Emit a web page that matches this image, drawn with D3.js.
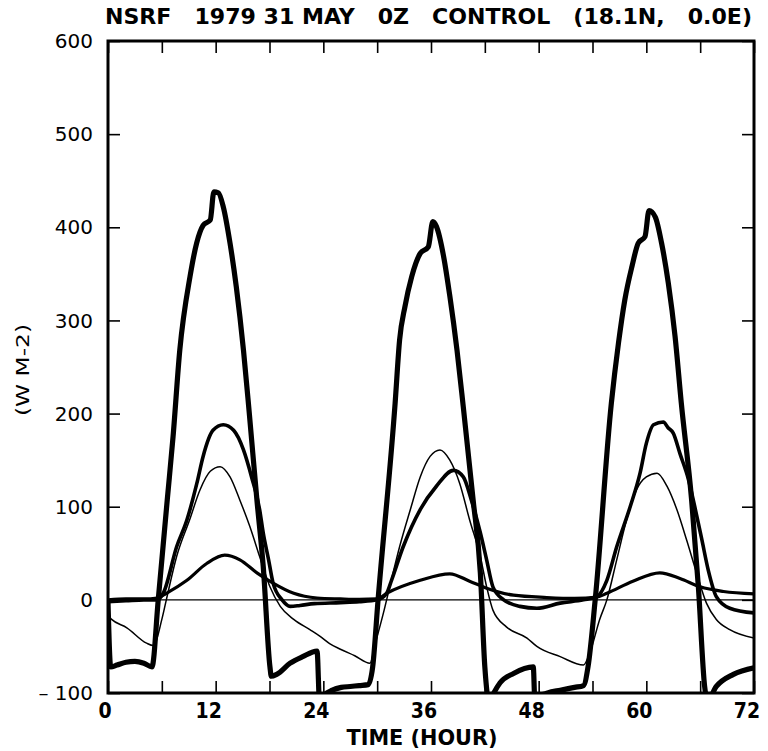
<!DOCTYPE html>
<html>
<head>
<meta charset="utf-8">
<script src="https://cdn.jsdelivr.net/npm/d3@7"></script>
<style>
  html, body { margin: 0; padding: 0; background: #fff; }
  svg { display: block; }
  text { fill: #000; }
</style>
</head>
<body>
<div id="chart"></div>
<script>
// ---------------- data ----------------
const titleText = "NSRF   1979 31 MAY   0Z   CONTROL   (18.1N,   0.0E)";
const xLabel = "TIME (HOUR)";
const yLabel = "(W M-2)";
const xTicks = [0, 12, 24, 36, 48, 60, 72];
const xMinorTicks = [0, 6, 12, 18, 24, 30, 36, 42, 48, 54, 60, 66, 72];
const yTicks = [-100, 0, 100, 200, 300, 400, 500, 600];

// thick curve
const hoursA = [0, 0.3, 1, 2, 3, 4, 4.9, 5.6, 6.6, 7.25, 8.0, 9.14, 9.88, 10.6, 11.4, 11.8, 12.3, 12.85, 13.6, 14.3, 15.1, 15.75, 16.6, 17.3, 18.05, 18.2, 18.8, 20.3, 21.7, 23.3, 23.6, 24, 25, 26, 27, 28, 29, 29.5, 30.1, 32.0, 32.5, 33.1, 33.85, 34.8, 35.7, 36.2, 36.6, 37.4, 38.1, 38.9, 39.6, 40.7, 41.5, 42.0, 42.5, 43.0, 43.7, 45.2, 47.4, 47.6, 48, 49, 50.4, 52, 53.0, 53.5, 54.3, 56.1, 56.9, 57.6, 58.4, 59.1, 59.85, 60.3, 61.0, 61.7, 62.45, 63.2, 63.9, 65.05, 65.8, 66.5, 66.8, 67.8, 69.7, 72];
const valuesA = [-2, -72, -70, -67, -66, -68, -72, 0, 107, 175, 268, 347, 383, 402, 408, 438, 437, 422, 383, 336, 268, 200, 107, 36, -72, -82, -80, -68, -61, -55, -115, -103, -97, -94, -93, -92, -91, -72, 0, 211, 279, 315, 347, 372, 379, 406, 401, 369, 326, 268, 207, 107, 29, -72, -110, -100, -89, -79, -72, -115, -104, -100, -97, -94, -92, -72, 0, 211, 276, 322, 358, 383, 390, 418, 411, 383, 340, 283, 211, 107, 14, -93, -108, -93, -80, -73];

// medium-thick curve
const hoursB = [0, 2, 4, 5.5, 6.2, 7.65, 8.8, 9.9, 10.6, 11.7, 12.85, 14.0, 15.1, 16.0, 16.9, 17.3, 17.9, 18.4, 19.4, 20.3, 21.4, 23, 25.9, 28, 30, 31.05, 31.6, 32.9, 34.8, 36.6, 38.5, 39.6, 40.5, 41.5, 42.2, 42.9, 44.1, 45.9, 47.8, 50.4, 53, 54.5, 55.6, 56.7, 58.2, 59.3, 60.0, 60.8, 61.9, 62.4, 63.0, 63.75, 64.7, 65.4, 66.2, 66.9, 67.8, 69.3, 72];
const valuesB = [-2, -1, 0, 0, 8, 57, 86, 125, 154, 182, 188, 182, 161, 132, 97, 72, 43, 18, 0, -7, -6, -4, -3, -2, 0, 7, 21, 57, 97, 122, 139, 132, 107, 72, 43, 14, 0, -7, -9, -3.5, 0, 3.5, 21, 57, 100, 136, 168, 188, 191, 185, 179, 157, 129, 100, 64, 32, 3.5, -9, -14];

// thin curve
const hoursC = [0, 0.4, 2.1, 4.3, 5.05, 6.0, 6.5, 7.65, 9.1, 10.25, 11.4, 12.5, 13.6, 14.7, 15.8, 16.9, 18.05, 19.2, 20.7, 22.5, 23.6, 24.7, 25.9, 27.5, 29.2, 29.8, 30.7, 31.4, 32.5, 33.7, 34.8, 35.9, 37.0, 38.1, 39.2, 40.3, 41.5, 42.2, 42.9, 44.4, 46.7, 47.8, 50.4, 53.0, 53.7, 54.8, 55.6, 56.7, 57.8, 58.9, 60.0, 61.2, 62.3, 63.4, 64.5, 65.6, 66.7, 67.8, 69.3, 72];
const valuesC = [-17, -21, -30, -46.5, -49, -21, 0, 46.5, 86, 118, 138, 143, 132, 107, 79, 46.5, 14, -7, -21, -32, -39, -47, -53, -60, -68, -46.5, -14, 14, 57, 97, 132, 154, 161, 150, 125, 86, 46.5, 14, -11, -29, -41, -50, -61, -70, -57, -21, 0, 43, 86, 118, 132, 136, 122, 97, 64, 29, -3.5, -21, -32, -41];

// low-amplitude curve
const hoursD = [0, 2, 4, 5.5, 6.5, 8.8, 11.0, 13.0, 14.7, 16.6, 18.4, 20.7, 23.3, 25.9, 28, 30, 31.05, 34.8, 38.1, 40.3, 42.2, 45.2, 48.9, 52, 54.5, 55.6, 58.5, 61.5, 63.75, 66.0, 68.6, 72];
const valuesD = [0, 1, 1, 2, 7, 21, 39, 48, 43, 29, 18, 7, 2, 1, 0.5, 1, 7, 21, 28, 20, 12.5, 5, 2.5, 1.5, 3, 7, 20, 29, 23, 14, 9, 6.5];

// ---------------- chart ----------------
const W = 768, H = 751;
const margin = { left: 108, right: 14, top: 41, bottom: 58 };

const svg = d3.select("#chart").append("svg")
  .attr("width", W).attr("height", H);

const x = d3.scaleLinear().domain([0, 72]).range([margin.left, W - margin.right]);
const y = d3.scaleLinear().domain([-100, 600]).range([H - margin.bottom, margin.top]);

const fontCond = "'DejaVu Sans Condensed', 'Liberation Sans Narrow', 'DejaVu Sans', sans-serif";

svg.append("defs").append("clipPath").attr("id", "plotclip")
  .append("rect")
  .attr("x", x(0)).attr("y", y(600))
  .attr("width", x(72) - x(0)).attr("height", y(-100) - y(600));

// zero line
svg.append("line")
  .attr("x1", x(0)).attr("x2", x(72))
  .attr("y1", y(0)).attr("y2", y(0))
  .attr("stroke", "#000").attr("stroke-width", 1.2);

const zip = (hs, vs) => hs.map((h, i) => [h, vs[i]]);
const line = d3.line().x(d => x(d[0])).y(d => y(d[1])).curve(d3.curveMonotoneX);

const g = svg.append("g").attr("clip-path", "url(#plotclip)");
const series = [
  { data: zip(hoursD, valuesD), w: 3.2 },
  { data: zip(hoursC, valuesC), w: 1.5 },
  { data: zip(hoursB, valuesB), w: 3.6 },
  { data: zip(hoursA, valuesA), w: 5.2 }
];
series.forEach(s => {
  g.append("path").datum(s.data)
    .attr("d", line)
    .attr("fill", "none")
    .attr("stroke", "#000")
    .attr("stroke-width", s.w)
    .attr("stroke-linejoin", "round")
    .attr("stroke-linecap", "round");
});

// axes with inward ticks
const tickLen = 12;
const axB = d3.axisBottom(x).tickValues(xMinorTicks).tickSize(-tickLen).tickFormat("");
const axT = d3.axisTop(x).tickValues(xMinorTicks).tickSize(-tickLen).tickFormat("");
const axL = d3.axisLeft(y).tickValues(yTicks).tickSize(-tickLen).tickFormat("");
const axR = d3.axisRight(y).tickValues(yTicks).tickSize(-tickLen).tickFormat("");

function styleAxis(sel) {
  sel.select(".domain").remove();
  sel.selectAll(".tick line").attr("stroke", "#000").attr("stroke-width", 1.6);
}
svg.append("g").attr("transform", `translate(0,${y(-100)})`).call(axB).call(styleAxis);
svg.append("g").attr("transform", `translate(0,${y(600)})`).call(axT).call(styleAxis);
svg.append("g").attr("transform", `translate(${x(0)},0)`).call(axL).call(styleAxis);
svg.append("g").attr("transform", `translate(${x(72)},0)`).call(axR).call(styleAxis);

// frame
svg.append("rect")
  .attr("x", x(0)).attr("y", y(600))
  .attr("width", x(72) - x(0)).attr("height", y(-100) - y(600))
  .attr("fill", "none").attr("stroke", "#000").attr("stroke-width", 3);

// y tick labels
svg.append("g").selectAll("text").data(yTicks).join("text")
  .attr("x", x(0) - 15)
  .attr("y", d => y(d))
  .attr("dy", "0.36em")
  .attr("text-anchor", "end")
  .attr("font-family", "'DejaVu Sans', sans-serif")
  .attr("font-size", 20)
  .style("white-space", "pre")
  .text(d => d < 0 ? "\u2013 " + Math.abs(d) : d);

// x tick labels
const xlabX = d => x(d) - (d === 0 ? 3 : 7);
svg.append("g").selectAll("text").data(xTicks).join("text")
  .attr("x", xlabX)
  .attr("y", y(-100) + 25)
  .attr("text-anchor", "middle")
  .attr("font-family", "'DejaVu Sans', sans-serif")
  .attr("font-weight", "bold")
  .attr("font-size", 21)
  .attr("transform-origin", d => `${xlabX(d)}px ${y(-100) + 25}px`)
  .attr("transform", "scale(0.9,1)")
  .text(d => d);

// x label
svg.append("text")
  .attr("x", 422).attr("y", 745)
  .attr("text-anchor", "middle")
  .attr("font-family", "'DejaVu Sans', sans-serif")
  .attr("font-weight", "bold")
  .attr("font-size", 21)
  .attr("textLength", 151)
  .attr("lengthAdjust", "spacingAndGlyphs")
  .text(xLabel);

// y label
svg.append("text")
  .attr("transform", `translate(29,${y(250) + 3}) rotate(-90)`)
  .attr("text-anchor", "middle")
  .attr("font-family", "'DejaVu Sans', sans-serif")
  .attr("font-size", 18)
  .attr("textLength", 92)
  .attr("lengthAdjust", "spacingAndGlyphs")
  .text(yLabel);

// title
svg.append("text")
  .attr("x", 105).attr("y", 24)
  .attr("font-family", fontCond)
  .attr("font-weight", "bold")
  .attr("font-size", 21)
  .style("white-space", "pre")
  .attr("textLength", 647)
  .attr("lengthAdjust", "spacingAndGlyphs")
  .text(titleText);
</script>
</body>
</html>
